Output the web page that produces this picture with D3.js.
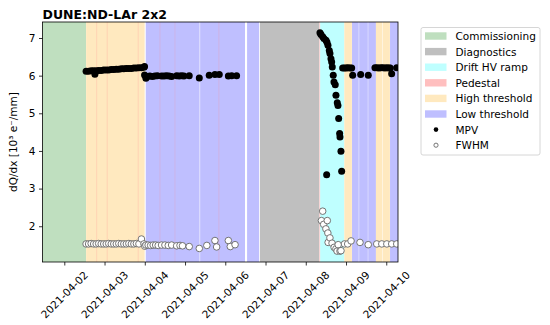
<!DOCTYPE html>
<html><head><meta charset="utf-8">
<script src="https://cdn.jsdelivr.net/npm/d3@7"></script>
<style>body{margin:0;background:#fff}svg{display:block;font-family:"DejaVu Sans",sans-serif}</style>
</head><body><svg id="c" width="550" height="325"></svg>
<script>
// ---- data ----
const title = "DUNE:ND-LAr 2x2";
const yLabel = "dQ/dx [10³ e⁻/mm]";
const xTickLabels = ["2021-04-02","2021-04-03","2021-04-04","2021-04-05","2021-04-06","2021-04-07","2021-04-08","2021-04-09","2021-04-10"];
const yTickValues = [2,3,4,5,6,7];
const categories = ["Commissioning","Diagnostics","Drift HV ramp","Pedestal","High threshold","Low threshold"];
const categoryColors = ["#bfdfbf","#bfbfbf","#bfffff","#ffbfbf","#ffe9bf","#bfbfff"];
// run periods: [start, end, category]
const spanStart = ["04-01 06:00","04-02 13:00","04-04 00:35","04-05 09:00","04-06 13:00","04-06 20:40","04-08 08:35","04-08 23:00","04-09 03:35","04-09 07:50","04-09 13:15","04-09 17:50","04-09 21:50","04-10 02:15"];
const spanEnd   = ["04-02 13:00","04-03 23:55","04-05 08:40","04-06 11:45","04-06 20:10","04-08 08:00","04-08 23:00","04-09 03:30","04-09 07:35","04-09 13:00","04-09 17:50","04-09 21:35","04-10 02:10","04-10 12:00"];
const spanCat   = ["Commissioning","High threshold","Low threshold","Low threshold","Low threshold","Diagnostics","Drift HV ramp","High threshold","Low threshold","Low threshold","Low threshold","High threshold","High threshold","Low threshold"];
const pedestalStart = ["04-02 19:10","04-03 01:20","04-03 19:50","04-04 08:50","04-04 17:50","04-05 20:00","04-08 08:00"];
const pedestalEnd   = ["04-02 19:35","04-03 01:45","04-03 20:15","04-04 09:15","04-04 18:10","04-05 20:25","04-08 08:35"];

const mpvTime = ["04-02 13:00","04-02 14:30","04-02 16:00","04-02 17:30","04-02 18:15","04-02 19:00","04-02 20:30","04-02 22:00","04-02 23:30",
 "04-03 01:00","04-03 02:30","04-03 04:00","04-03 05:30","04-03 07:00","04-03 08:30","04-03 10:00","04-03 11:30","04-03 13:00","04-03 14:30",
 "04-03 16:00","04-03 17:30","04-03 19:00","04-03 20:30","04-03 22:00","04-03 23:30","04-03 23:50","04-03 23:52",
 "04-04 00:40","04-04 01:30","04-04 03:00","04-04 04:30","04-04 06:00","04-04 07:30","04-04 10:00","04-04 11:30","04-04 13:00","04-04 14:30",
 "04-04 16:00","04-04 19:00","04-04 20:30","04-04 22:00","04-04 23:20",
 "04-05 02:30","04-05 08:30","04-05 14:25","04-05 17:50","04-05 20:25","04-06 01:50","04-06 03:50","04-06 06:45",
 "04-08 08:28","04-08 09:04","04-08 10:05","04-08 10:51","04-08 12:03","04-08 12:27","04-08 12:39","04-08 13:14","04-08 14:01","04-08 14:25",
 "04-08 15:01","04-08 15:27","04-08 15:48","04-08 16:23","04-08 16:49","04-08 17:35","04-08 18:00","04-08 18:47","04-08 19:12","04-08 19:37",
 "04-08 20:12","04-08 20:24","04-08 20:59","04-08 21:24",
 "04-08 22:00","04-08 23:04","04-09 00:09","04-09 01:09","04-09 02:21","04-09 03:22","04-09 03:58","04-09 08:44","04-09 13:16",
 "04-09 17:15","04-09 18:27","04-09 19:39","04-09 20:50","04-09 22:02","04-09 23:14","04-10 00:25","04-10 01:37","04-10 02:23","04-10 03:13","04-10 06:12"];
const mpv = [6.12,6.12,6.13,6.13,6.04,6.13,6.14,6.14,6.15,
 6.15,6.15,6.16,6.16,6.17,6.17,6.18,6.18,6.19,6.19,
 6.19,6.20,6.20,6.21,6.21,6.22,6.24,6.02,
 5.93,5.98,5.99,5.98,5.99,6.00,5.99,5.99,6.00,5.99,
 5.98,6.00,5.99,6.00,5.99,
 6.00,5.94,6.01,6.03,6.03,5.99,6.00,6.00,
 7.14,7.09,7.03,6.99,6.94,3.37,6.89,6.81,6.67,6.59,
 6.45,6.36,6.23,6.01,5.83,5.76,5.48,5.28,5.21,4.86,
 4.46,4.37,3.99,3.46,
 6.20,6.20,6.20,6.21,6.20,6.20,6.01,6.03,6.01,
 6.21,6.21,6.20,6.21,6.21,6.20,6.21,6.20,6.20,6.05,6.21];

const fwhmTime = ["04-02 13:00","04-02 14:30","04-02 16:00","04-02 17:30","04-02 19:00","04-02 20:30","04-02 22:00","04-02 23:30",
 "04-03 01:00","04-03 02:30","04-03 04:00","04-03 05:30","04-03 07:00","04-03 08:30","04-03 10:00","04-03 11:30","04-03 13:00","04-03 14:30",
 "04-03 16:00","04-03 17:30","04-03 19:00","04-03 20:30","04-03 22:00","04-03 23:30","04-04 00:00",
 "04-04 00:40","04-04 02:00","04-04 03:30","04-04 05:00","04-04 06:30","04-04 08:00","04-04 10:00","04-04 12:00","04-04 14:00","04-04 16:00",
 "04-04 19:00","04-04 21:00","04-04 22:30",
 "04-05 02:30","04-05 08:30","04-05 13:00","04-05 17:50","04-05 18:50","04-06 01:50","04-06 03:00","04-06 05:50",
 "04-08 09:20","04-08 10:05","04-08 10:40","04-08 12:00","04-08 12:50","04-08 13:10","04-08 13:20","04-08 14:25","04-08 15:40",
 "04-08 16:55","04-08 18:00","04-08 18:40","04-08 19:20","04-08 20:25","04-08 21:00",
 "04-08 23:05","04-09 01:00","04-09 03:00","04-09 08:20","04-09 13:15","04-09 18:20","04-09 21:20","04-10 00:20","04-10 03:15","04-10 06:15"];
const fwhm = [1.53,1.53,1.54,1.53,1.53,1.54,1.53,1.53,
 1.53,1.54,1.53,1.53,1.53,1.54,1.53,1.53,1.53,1.54,
 1.53,1.53,1.54,1.53,1.66,1.53,1.47,
 1.50,1.50,1.49,1.50,1.50,1.49,1.50,1.50,1.49,1.50,
 1.48,1.49,1.48,
 1.46,1.41,1.49,1.62,1.45,1.62,1.46,1.51,
 2.15,2.40,2.05,1.93,2.15,1.82,1.57,1.69,1.55,
 1.44,1.40,1.34,1.51,1.34,1.35,
 1.53,1.53,1.61,1.57,1.51,1.53,1.53,1.53,1.53,1.53];

// ---- chart ----
const parse = d3.timeParse("%Y-%m-%d %H:%M");
const P = s => parse("2021-" + s);
const svg = d3.select("#c");
const L = 42.5, R = 398, T = 22, B = 262;
const x = d3.scaleTime().domain([P("04-01 11:00"), P("04-10 07:00")]).range([L, R]);
const y = d3.scaleLinear().domain([1.05, 7.425]).range([B, T]);
const colorOf = d3.scaleOrdinal().domain(categories).range(categoryColors);

svg.append("defs").append("clipPath").attr("id","clip")
  .append("rect").attr("x",L).attr("y",T).attr("width",R-L).attr("height",B-T);
const g = svg.append("g").attr("clip-path","url(#clip)");

g.selectAll("rect.span").data(spanStart.map((s,i)=>({s:P(s),e:P(spanEnd[i]),c:spanCat[i]})))
  .join("rect").attr("class","span")
  .attr("x",d=>x(d.s)).attr("width",d=>x(d.e)-x(d.s))
  .attr("y",T).attr("height",B-T).attr("fill",d=>colorOf(d.c));
g.selectAll("rect.ped").data(pedestalStart.map((s,i)=>({s:P(s),e:P(pedestalEnd[i])})))
  .join("rect").attr("class","ped")
  .attr("x",d=>x(d.s)).attr("width",d=>x(d.e)-x(d.s))
  .attr("y",T).attr("height",B-T).attr("fill","#ff9090").attr("fill-opacity",0.35);

g.selectAll("circle.mpv").data(mpvTime.map((t,i)=>({t:P(t),v:mpv[i]})))
  .join("circle").attr("class","mpv")
  .attr("cx",d=>x(d.t)).attr("cy",d=>y(d.v)).attr("r",3.5).attr("fill","#000");
g.selectAll("circle.fwhm").data(fwhmTime.map((t,i)=>({t:P(t),v:fwhm[i]})))
  .join("circle").attr("class","fwhm")
  .attr("cx",d=>x(d.t)).attr("cy",d=>y(d.v)).attr("r",3.3)
  .attr("fill","#fff").attr("stroke","#666").attr("stroke-width",0.9);

// axes
const xTicks = xTickLabels.map(s => parse(s + " 00:00"));
const xAxis = svg.append("g").attr("transform",`translate(0,${B})`)
  .call(d3.axisBottom(x).tickValues(xTicks).tickSize(3.5).tickFormat(""));
xAxis.select(".domain").remove();
xAxis.selectAll("line").attr("stroke","#000").attr("stroke-width",0.8);
svg.append("g").selectAll("text").data(xTicks).join("text")
  .attr("transform",(d,i)=>`translate(${x(d)},${B+32.5}) rotate(-45)`)
  .attr("text-anchor","middle").attr("dominant-baseline","central")
  .attr("font-size",10.5).attr("fill","#000").text((d,i)=>xTickLabels[i]);

const yAxis = svg.append("g").attr("transform",`translate(${L},0)`)
  .call(d3.axisLeft(y).tickValues(yTickValues).tickSize(3.5).tickPadding(3.5).tickFormat(d3.format("d")));
yAxis.select(".domain").remove();
yAxis.selectAll("line").attr("stroke","#000").attr("stroke-width",0.8);
yAxis.selectAll("text").attr("font-size",10.5).attr("font-family","DejaVu Sans").attr("fill","#000");

svg.append("rect").attr("x",L).attr("y",T).attr("width",R-L).attr("height",B-T)
  .attr("fill","none").attr("stroke","#000").attr("stroke-width",0.8);

svg.append("text").attr("x",L).attr("y",19).attr("font-size",12.5).attr("font-weight","bold").text(title);
svg.append("text").attr("transform",`translate(17,${(T+B)/2}) rotate(-90)`)
  .attr("text-anchor","middle").attr("font-size",10.5).text(yLabel);

// legend
const lg = svg.append("g");
lg.append("rect").attr("x",421).attr("y",27.5).attr("width",119).attr("height",127.5).attr("rx",2)
  .attr("fill","#fff").attr("fill-opacity",0.8).attr("stroke","#ccc").attr("stroke-width",0.8);
const items = categories.map(c=>({label:c,type:"patch"})).concat([{label:"MPV",type:"mpv"},{label:"FWHM",type:"fwhm"}]);
items.forEach((it,i)=>{
  const cy = 36 + i*15.6;
  if (it.type==="patch") lg.append("rect").attr("x",425).attr("y",cy-3.7).attr("width",21.5).attr("height",7.4).attr("fill",colorOf(it.label));
  else if (it.type==="mpv") lg.append("circle").attr("cx",436).attr("cy",cy).attr("r",2.3).attr("fill","#000");
  else lg.append("circle").attr("cx",436).attr("cy",cy).attr("r",2.1).attr("fill","#fff").attr("stroke","#666").attr("stroke-width",0.9);
  lg.append("text").attr("x",455.5).attr("y",cy).attr("dominant-baseline","central").attr("font-size",10.5).text(it.label);
});
</script></body></html>
